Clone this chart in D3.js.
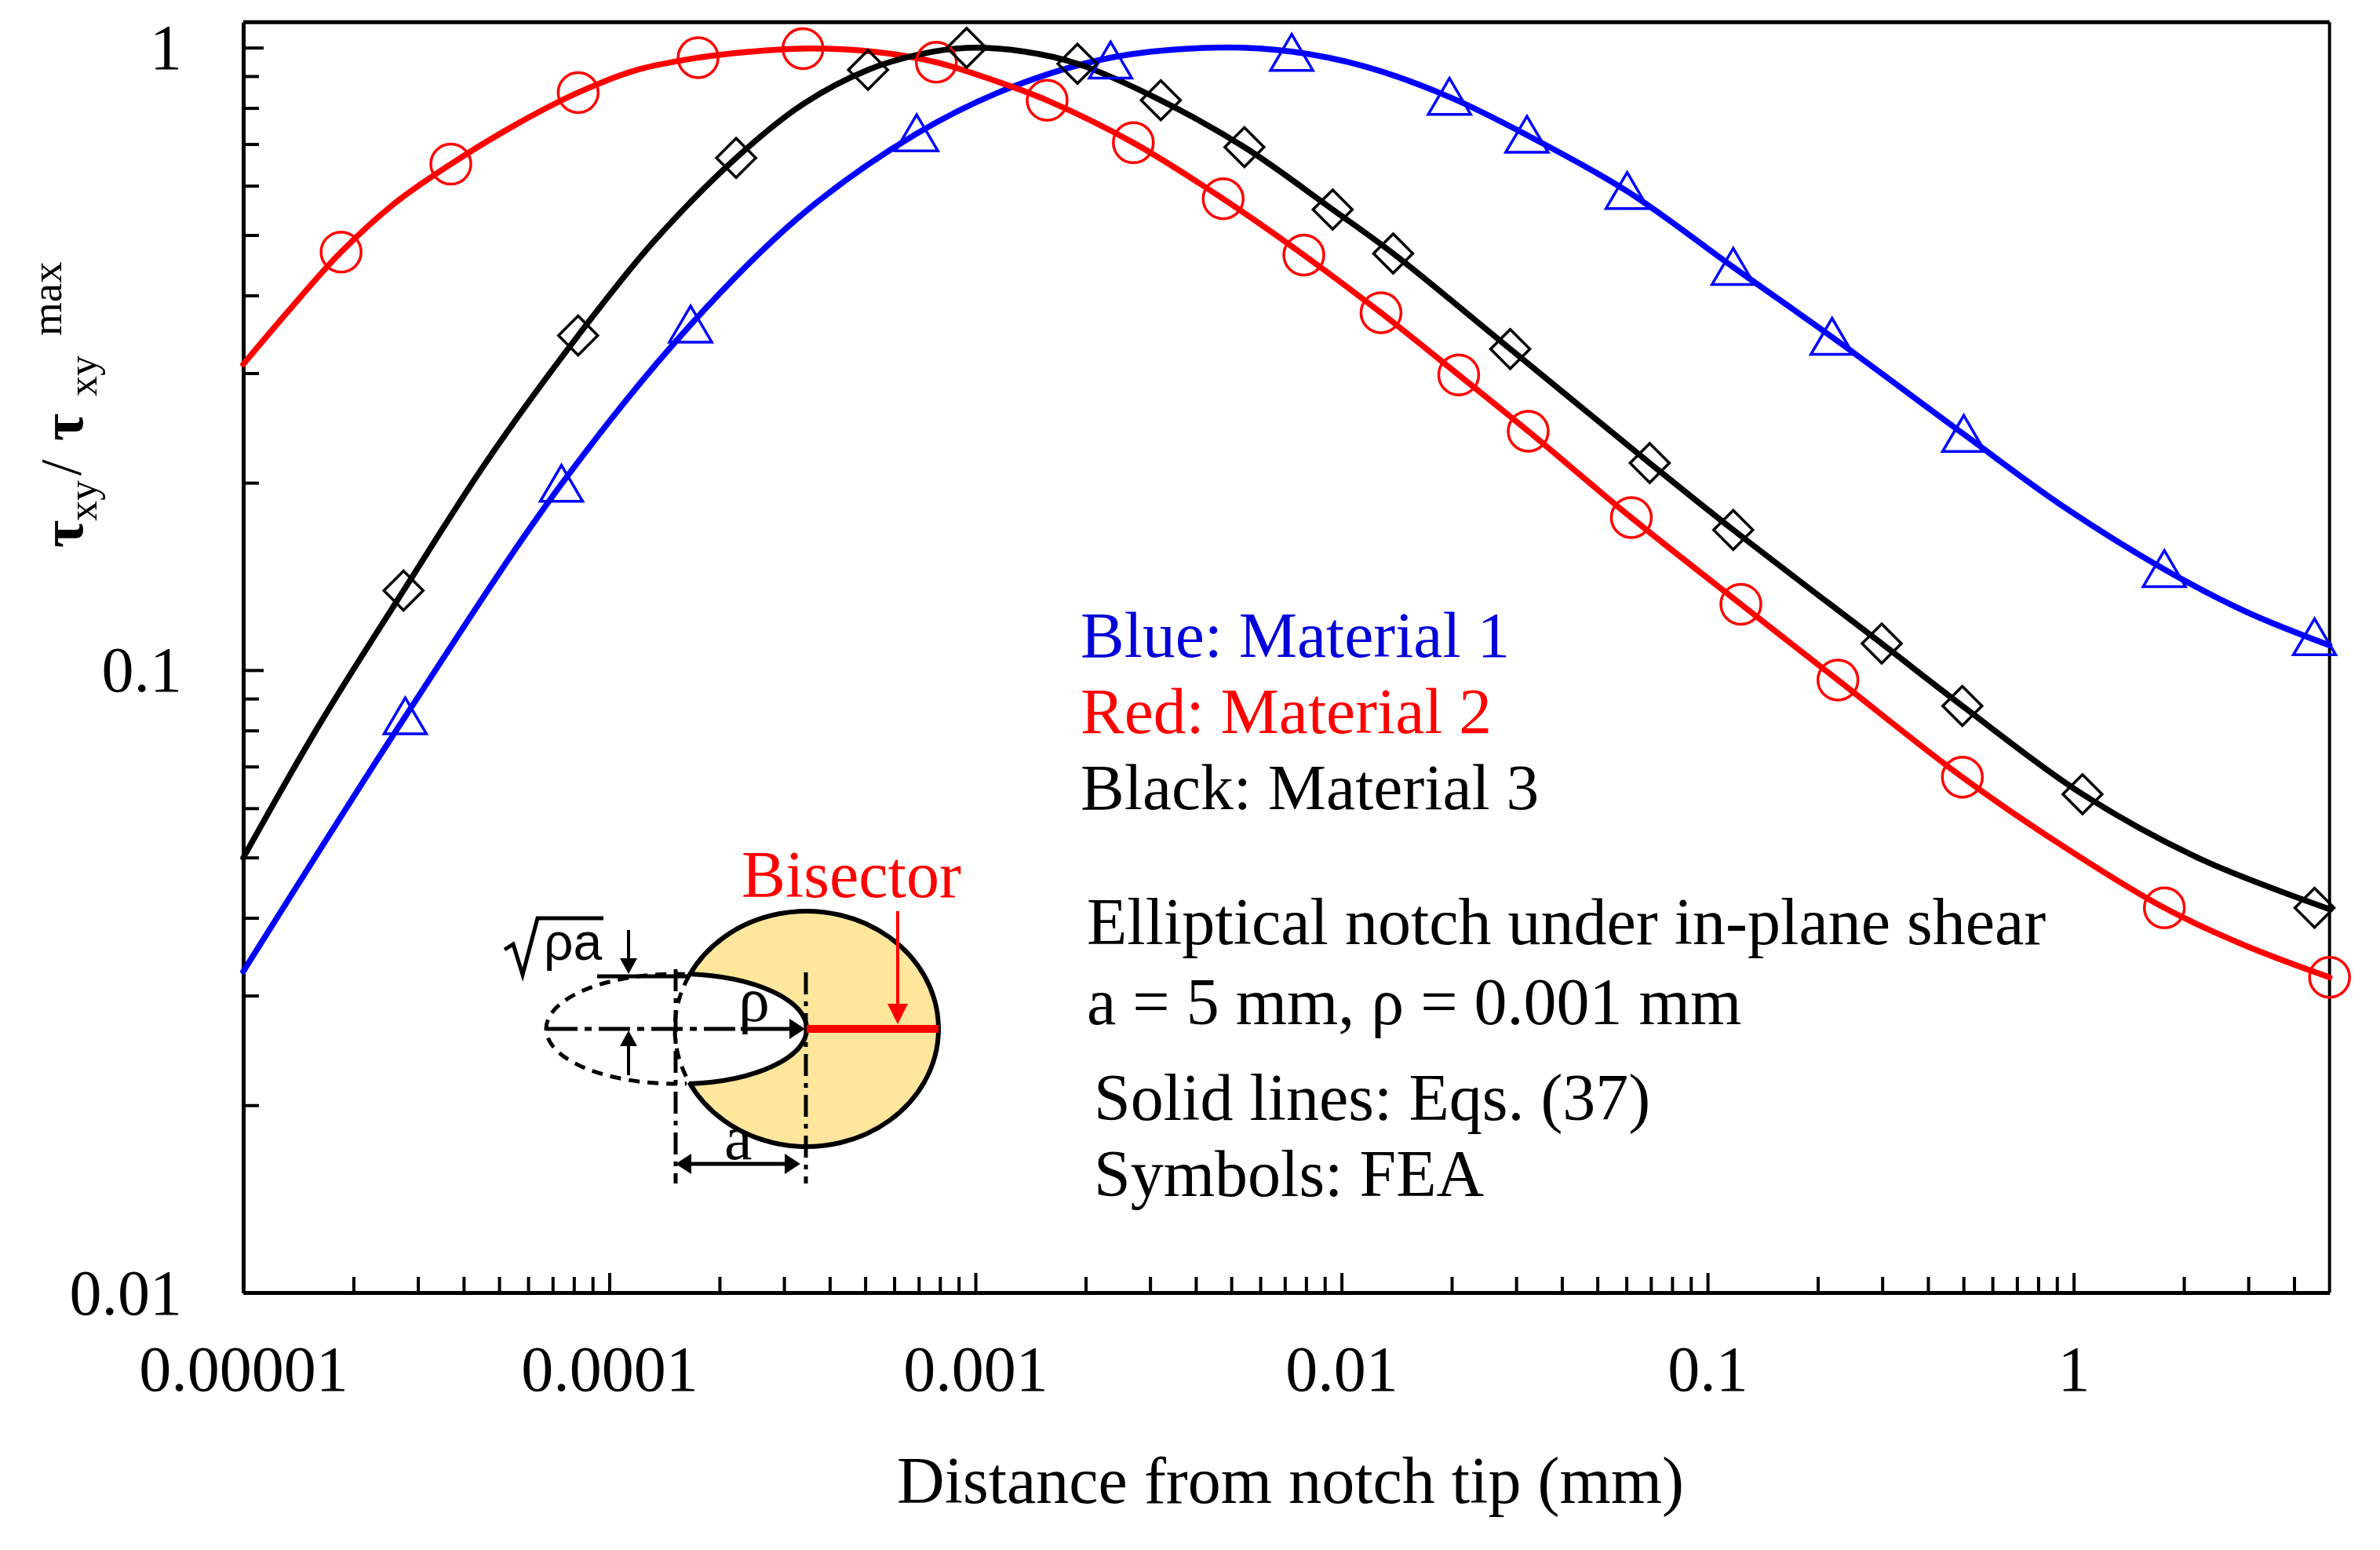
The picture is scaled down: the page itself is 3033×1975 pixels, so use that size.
<!DOCTYPE html>
<html><head><meta charset="utf-8">
<style>
html,body{margin:0;padding:0;background:#fff}
svg{display:block}
text{font-family:"Liberation Serif",serif}
</style>
<script src="https://cdn.jsdelivr.net/npm/d3@7/dist/d3.min.js"></script>
</head><body>
<svg id="c" width="3033" height="1975"></svg>
<script>
// ---- tick values ----
const xMajor = [0.00001, 0.0001, 0.001, 0.01, 0.1, 1];
const xMajorLabels = ["0.00001", "0.0001", "0.001", "0.01", "0.1", "1"];
const xMinor = [2e-5,3e-5,4e-5,5e-5,6e-5,7e-5,8e-5,9e-5,
                2e-4,3e-4,4e-4,5e-4,6e-4,7e-4,8e-4,9e-4,
                2e-3,3e-3,4e-3,5e-3,6e-3,7e-3,8e-3,9e-3,
                .02,.03,.04,.05,.06,.07,.08,.09,
                .2,.3,.4,.5,.6,.7,.8,.9,
                2,3,4];
const yMajor = [0.01, 0.1, 1];
const yMajorLabels = ["0.01", "0.1", "1"];
const yMinor = [.02,.03,.04,.05,.06,.07,.08,.09,.2,.3,.4,.5,.6,.7,.8,.9];

// ---- FEA symbols ----
const redX = [1.85e-5,3.69e-5,8.22e-5,1.748e-4,3.38e-4,7.82e-4,1.57e-3,2.70e-3,4.75e-3,7.89e-3,.01282,.0209,.03236,.0619,.1233,.227,.4966,1.769,5];
const redY = [.4695,.650,.847,.9636,.9966,.9475,.823,.7035,.5717,.4644,.375,.298,.242,.1758,.1276,.0964,.0673,.0415,.0321];
const blackX = [2.74e-5,8.22e-5,2.22e-4,5.09e-4,9.46e-4,1.90e-3,3.21e-3,5.43e-3,9.46e-3,.01384,.0289,.0695,.1175,.299,.4966,1.057,4.55];
const blackY = [.1342,.3448,.665,.9213,.999,.9422,.823,.692,.5495,.467,.328,.2151,.168,.1103,.0876,.0632,.0415];
const blueX = [2.77e-5,7.40e-5,1.667e-4,6.91e-4,2.34e-3,7.31e-3,.01972,.0321,.0603,.1175,.2188,.501,1.769,4.55];
const blueY = [.0842,.199,.3587,.7277,.9528,.98,.833,.7237,.5879,.444,.3428,.2393,.1452,.1128];

// ---- solid curves ----
const redLineX = [1e-5,1.327e-5,1.85e-5,2.59e-5,3.69e-5,5.56e-5,8.22e-5,1.193e-4,1.748e-4,2.44e-4,3.38e-4,5.24e-4,7.82e-4,1.125e-3,1.57e-3,2.70e-3,4.75e-3,7.89e-3,.01282,.0209,.03236,.0619,.1233,.227,.4966,.942,1.769,2.958,5];
const redLineY = [.31,.3773,.4695,.5621,.65,.7526,.847,.9213,.9636,.9855,.9966,.9855,.9475,.8856,.823,.7035,.5717,.4644,.375,.298,.242,.1758,.1276,.0964,.0673,.052,.0415,.03606,.0321];
const blackLineX = [1e-5,1.607e-5,2.74e-5,4.59e-5,8.22e-5,1.312e-4,2.22e-4,3.41e-4,5.09e-4,6.98e-4,9.46e-4,1.36e-3,1.90e-3,3.21e-3,5.43e-3,9.46e-3,.01384,.0289,.0695,.1175,.299,.4966,1.057,2.223,5];
const blackLineY = [.04994,.0814,.1342,.2151,.3448,.4856,.665,.8142,.9213,.9745,.999,.9855,.9422,.823,.692,.5495,.467,.328,.2151,.168,.1103,.0876,.0632,.0497,.0413];
const blueLineX = [1e-5,2.77e-5,7.40e-5,1.667e-4,3.41e-4,6.91e-4,1.237e-3,2.34e-3,4.49e-3,7.31e-3,.01167,.01972,.0321,.0603,.1175,.2188,.501,.942,1.769,2.958,5];
const blueLineY = [.0328,.0842,.199,.3587,.5434,.7277,.8611,.9636,1,.9855,.9317,.833,.7237,.5879,.444,.3428,.2393,.1828,.1452,.1241,.1096];

const seriesLines = [
  {xs: blueLineX, ys: blueLineY, color: "#0000ff"},
  {xs: redLineX, ys: redLineY, color: "#ff0000"},
  {xs: blackLineX, ys: blackLineY, color: "#000000"}
];

const L = 310, R = 2968.7, T = 28.3, B = 1647;
const x = d3.scaleLog().domain([1e-5, 5]).range([L, R]);
const y = d3.scaleLog().domain([0.01, 1.0987]).range([B, T]);
const svg = d3.select("#c");

// ---- axes ----
const gx = svg.append("g").attr("transform", `translate(0,${B})`);
gx.call(d3.axisBottom(x).tickValues(xMinor).tickSizeInner(-20).tickSizeOuter(0).tickFormat(""));
const gxM = svg.append("g").attr("transform", `translate(0,${B})`);
gxM.call(d3.axisBottom(x).tickValues(xMajor).tickSizeInner(-25).tickSizeOuter(0).tickFormat((d,i)=>xMajorLabels[i]));
const gy = svg.append("g").attr("transform", `translate(${L},0)`);
gy.call(d3.axisLeft(y).tickValues(yMinor).tickSizeInner(-20).tickSizeOuter(0).tickFormat(""));
const gyM = svg.append("g").attr("transform", `translate(${L},0)`);
gyM.call(d3.axisLeft(y).tickValues(yMajor).tickSizeInner(-26).tickSizeOuter(0).tickFormat((d,i)=>yMajorLabels[i]));
svg.selectAll(".tick line").attr("stroke","#000").attr("stroke-width",4);
svg.selectAll(".domain").attr("stroke","#000").attr("stroke-width",5);
gxM.selectAll("text").attr("y",125).attr("dy",0).attr("font-size",82).attr("fill","#000").attr("font-family","Liberation Serif");
gyM.selectAll("text").attr("x",-78).attr("dy","0.33em").attr("font-size",82).attr("fill","#000").attr("font-family","Liberation Serif");
svg.append("line").attr("x1",L).attr("x2",R).attr("y1",T).attr("y2",T).attr("stroke","#000").attr("stroke-width",5);
svg.append("line").attr("x1",R).attr("x2",R).attr("y1",T).attr("y2",B).attr("stroke","#000").attr("stroke-width",4);

// ---- curves ----
const line = d3.line().x(d=>x(d[0])).y(d=>y(d[1])).curve(d3.curveCatmullRom.alpha(0.5));
seriesLines.forEach(s=>{
  svg.append("path").attr("d", line(d3.zip(s.xs,s.ys)))
    .attr("fill","none").attr("stroke",s.color).attr("stroke-width",7.5).attr("stroke-linecap","round");
});

// ---- symbols ----
svg.append("g").selectAll("path").data(d3.zip(blueX,blueY)).join("path")
  .attr("d","M0,-24L27,22L-27,22Z")
  .attr("transform",d=>`translate(${x(d[0])},${y(d[1])})`)
  .attr("fill","none").attr("stroke","#0000ff").attr("stroke-width",3.5);
svg.append("g").selectAll("circle").data(d3.zip(redX,redY)).join("circle")
  .attr("cx",d=>x(d[0])).attr("cy",d=>y(d[1])).attr("r",25.5)
  .attr("fill","none").attr("stroke","#ff0000").attr("stroke-width",3.5);
svg.append("g").selectAll("path").data(d3.zip(blackX,blackY)).join("path")
  .attr("d","M0,-25L25,0L0,25L-25,0Z")
  .attr("transform",d=>`translate(${x(d[0])},${y(d[1])})`)
  .attr("fill","none").attr("stroke","#000").attr("stroke-width",3.5);

// ---- text ----
const labels = [
  ["Blue: Material 1",1377,837,"#0000d8",83.5],
  ["Red: Material 2",1377,934,"#ff0000",83.5],
  ["Black: Material 3",1377,1031,"#000",83.5],
  ["Elliptical notch under in-plane shear",1385,1203,"#000",84],
  ["a = 5 mm, ρ = 0.001 mm",1385,1305,"#000",84],
  ["Solid lines: Eqs. (37)",1394,1427,"#000",84],
  ["Symbols: FEA",1394,1524,"#000",84],
  ["Bisector",945,1143,"#ff0000",84],
  ["Distance from notch tip (mm)",1143,1915,"#000",84]
];
labels.forEach(l=>svg.append("text").attr("x",l[1]).attr("y",l[2]).attr("fill",l[3]).attr("font-size",l[4]).text(l[0]));

// ---- y title (rotated pieces) ----
const yTitle = [
  ["τ",105,698,76,700],["xy",123,664,52,400],["/",103,606,74,400],
  ["τ",105,562,76,700],["xy",123,505,52,400],["max",78,428,55,400]
];
yTitle.forEach(p=>svg.append("text").attr("transform",`translate(${p[1]},${p[2]}) rotate(-90)`)
  .attr("font-size",p[3]).attr("font-weight",p[4]).attr("fill","#000").text(p[0]));

// ---- inset notch diagram ----
const d = svg.append("g");
const cx=1028, cy=1311, rx=168, ry=150, nx=862, nrx=166, nry=70;
d.append("ellipse").attr("cx",cx).attr("cy",cy).attr("rx",rx).attr("ry",ry).attr("fill","#fee69c");
const bigEllipse = a => [cx+rx*Math.cos(a), cy+ry*Math.sin(a)];
const aTop = Math.PI+Math.asin(68/150), aBot = Math.PI-Math.asin(68/150);
const p0 = bigEllipse(aTop), p1 = bigEllipse(aBot);
// white notch
d.append("path").attr("d",`M${p0}A${nrx},${nry} 0 0 1 ${cx},${cy}A${nrx},${nry} 0 0 1 ${p1}A${rx},${ry} 0 0 1 ${p0}Z`).attr("fill","#fff");
// solid outline of body
d.append("path").attr("d",`M${p0}A${rx},${ry} 0 1 1 ${p1}`).attr("fill","none").attr("stroke","#000").attr("stroke-width",6);
d.append("path").attr("d",`M${p0[0]},${cy-nry}A${nrx},${nry} 0 0 1 ${nx+nrx},${cy}A${nrx},${nry} 0 0 1 ${p1[0]},${cy+nry}`).attr("fill","none").attr("stroke","#000").attr("stroke-width",6);
// dashed continuation
d.append("path").attr("d",`M${p0}A${rx},${ry} 0 0 0 ${p1}`).attr("fill","none").attr("stroke","#000").attr("stroke-width",5).attr("stroke-dasharray","14,10");
d.append("ellipse").attr("cx",nx).attr("cy",cy).attr("rx",nrx).attr("ry",nry).attr("fill","none").attr("stroke","#000").attr("stroke-width",5).attr("stroke-dasharray","14,10")
  .attr("clip-path","url(#leftClip)");
svg.append("defs").append("clipPath").attr("id","leftClip").append("rect").attr("x",680).attr("y",1200).attr("width",195).attr("height",220);
// centre lines
const seg=(x1,y1,x2,y2,dash,col="#000",w=5)=>d.append("line").attr("x1",x1).attr("y1",y1).attr("x2",x2).attr("y2",y2)
  .attr("stroke",col).attr("stroke-width",w).attr("stroke-dasharray",dash);
seg(861,1235,861,1508,"28,9,6,9");
seg(1027,1239,1027,1508,"28,9,6,9");
seg(696,cy,944,cy,"40,9,9,9");
seg(761,1244,877,1244,null);
seg(1028,cy,cx+rx,cy,null,"#ff0000",10);
// arrows
const head=(xt,yt,dir,col="#000",len=24,hw=11)=>{
  const [ux,uy]=dir;
  d.append("path").attr("fill",col).attr("d",`M${xt},${yt}L${xt-ux*len-uy*hw},${yt-uy*len-ux*hw}L${xt-ux*len+uy*hw},${yt-uy*len+ux*hw}Z`);
};
seg(801,1185,801,1225,null,"#000",4); head(801,1241,[0,1],"#000",20,11);
seg(801,1370,801,1330,null,"#000",4); head(801,1313,[0,-1],"#000",20,11);
seg(944,cy,1010,cy,null,"#000",5); head(1026,cy,[1,0],"#000",20,13);
seg(870,1483,1010,1483,null,"#000",5); head(861,1483,[-1,0],"#000",20,13); head(1020,1483,[1,0],"#000",20,13);
seg(1144,1161,1144,1285,null,"#ff0000",4); head(1144,1305,[0,1],"#ff0000",26,13);
// sqrt
d.append("path").attr("d","M643,1210L654,1203L666,1242L685,1170L769,1170").attr("fill","none").attr("stroke","#000").attr("stroke-width",5);
d.append("text").attr("x",693).attr("y",1223).attr("font-size",66).attr("fill","#000").style("font-family","Liberation Sans").text("ρa");
d.append("text").attr("x",941).attr("y",1301).attr("font-size",80).attr("fill","#000").text("ρ");
d.append("text").attr("x",923).attr("y",1477).attr("font-size",80).attr("fill","#000").text("a");
</script>
</body></html>
